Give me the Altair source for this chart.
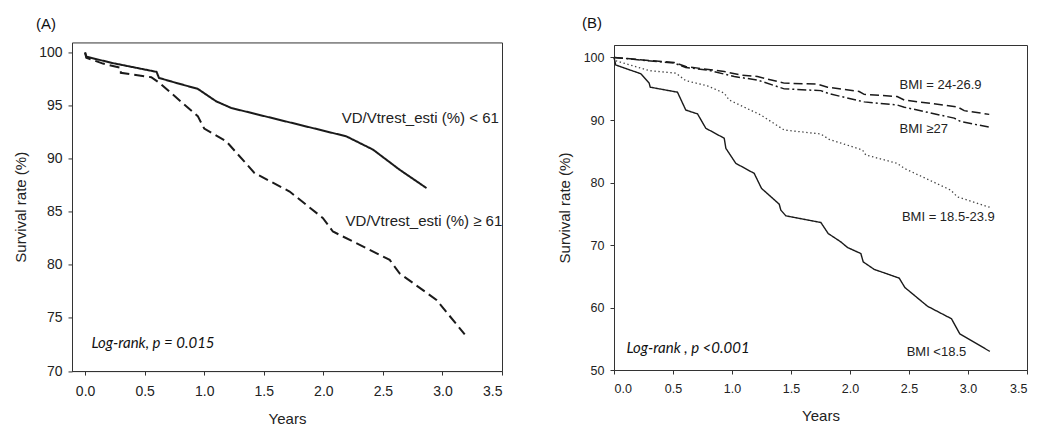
import altair as alt
import pandas as pd

# ---------------- Panel A data ----------------
a_names = ["VD/Vtrest_esti (%) < 61", "VD/Vtrest_esti (%) ≥ 61"]
a_low_x = [0.0, 0.01, 0.23, 0.60, 0.62, 0.765, 0.946, 1.10, 1.227, 2.193, 2.417, 2.64, 2.866]
a_low_y = [100.0, 99.6, 99.0, 98.17, 97.6, 97.13, 96.57, 95.4, 94.77, 92.1, 90.85, 88.96, 87.23]
a_high_x = [0.0, 0.01, 0.15, 0.30, 0.30, 0.555, 0.624, 0.946, 1.0, 1.185, 1.423, 1.717,
            1.997, 2.08, 2.557, 2.64, 2.95, 3.187]
a_high_y = [100.0, 99.5, 98.95, 98.55, 98.08, 97.67, 97.13, 94.0, 92.83, 91.63, 88.64, 86.9,
            84.4, 83.14, 80.47, 79.2, 76.7, 73.45]
a_label_x = [2.154, 2.187]
a_label_y = [93.8, 84.1]
a_note = "Log-rank, p = 0.015"
a_note_x = [0.053]
a_note_y = [72.6]

# ---------------- Panel B data ----------------
b_names = ["BMI = 24-26.9", "BMI ≥27", "BMI = 18.5-23.9", "BMI <18.5"]
b_n_x = [0.0, 0.51, 0.608, 0.934, 1.075, 1.216, 1.442, 1.725, 1.81, 2.078, 2.12, 2.40, 2.46,
         2.91, 2.968, 3.18]
b_n_y = [100.0, 99.2, 98.56, 97.75, 97.2, 96.95, 95.9, 95.75, 95.25, 94.55, 94.1, 93.75, 93.2,
         92.1, 91.5, 90.9]
b_o_x = [0.0, 0.51, 0.608, 0.792, 1.019, 1.216, 1.442, 1.753, 1.824, 2.12, 2.40, 2.46, 2.883,
         2.94, 3.185]
b_o_y = [100.0, 99.1, 98.4, 98.0, 96.95, 96.4, 94.98, 94.7, 94.2, 92.9, 92.4, 92.05, 90.3,
         89.74, 88.84]
b_m_x = [0.0, 0.01, 0.298, 0.524, 0.608, 0.792, 0.934, 0.976, 1.244, 1.442, 1.753, 1.824,
         2.106, 2.134, 2.40, 2.46, 2.854, 2.91, 3.19]
b_m_y = [100.0, 99.5, 97.9, 97.5, 96.3, 95.46, 94.3, 93.2, 90.8, 88.4, 87.76, 86.9,
         85.2, 84.4, 83.07, 82.26, 78.78, 77.7, 76.0]
b_u_x = [0.0, 0.015, 0.227, 0.298, 0.307, 0.538, 0.608, 0.708, 0.778, 0.934, 0.948, 1.032,
         1.188, 1.25, 1.40, 1.414, 1.456, 1.753, 1.815, 1.922, 1.979, 2.092, 2.112, 2.205,
         2.417, 2.465, 2.657, 2.86, 2.93, 3.185]
b_u_y = [100.0, 98.8, 97.4, 95.9, 95.25, 94.45, 91.6, 90.97, 88.68, 87.08, 85.47, 83.07,
         81.46, 79.06, 76.54, 75.58, 74.67, 73.6, 71.84, 70.5, 69.6, 68.63, 67.3, 66.1,
         64.7, 63.2, 60.2, 58.2, 55.8, 52.97]
b_label_x = [2.42, 2.42, 2.44, 2.48]
b_label_y = [95.6, 88.6, 74.5, 52.85]
b_note = "Log-rank , p <0.001"
b_note_x = [0.106]
b_note_y = [53.6]


def series_df(xv, yv):
    return pd.DataFrame({"years": xv, "survival": yv, "i": list(range(len(xv)))})


FONT = "Liberation Sans"
INK = "#1a1a1a"
TICKS_X = [0, 0.5, 1, 1.5, 2, 2.5, 3, 3.5]

# ---------------- Panel A ----------------
xA = alt.X("years:Q",
           scale=alt.Scale(domain=[-0.11, 3.5], nice=False, zero=False),
           axis=alt.Axis(values=TICKS_X, format=".1f", title="Years",
                         labelFontSize=14, titleFontSize=15, labelPadding=9, titlePadding=13))
yA = alt.Y("survival:Q",
           scale=alt.Scale(domain=[70, 100.94], nice=False, zero=False),
           axis=alt.Axis(values=[70, 75, 80, 85, 90, 95, 100], title="Survival rate (%)",
                         labelFontSize=14, titleFontSize=15, labelPadding=6, titlePadding=10))

a_styles = [dict(strokeDash=[1, 0]), dict(strokeDash=[10, 5])]
a_layers = []
for xv, yv, st in zip([a_low_x, a_high_x], [a_low_y, a_high_y], a_styles):
    a_layers.append(
        alt.Chart(series_df(xv, yv)).mark_line(color=INK, strokeWidth=2, **st).encode(
            x=xA, y=yA, order="i:Q")
    )
labA = pd.DataFrame({"t": a_names, "x": a_label_x, "y": a_label_y})
textA = alt.Chart(labA).mark_text(align="left", baseline="middle", font=FONT, fontSize=15,
                                  color="#222").encode(x="x:Q", y="y:Q", text="t:N")
noteA = alt.Chart(pd.DataFrame({"t": [a_note], "x": a_note_x, "y": a_note_y})).mark_text(
    align="left", baseline="middle", font="Lato", fontStyle="italic", fontSize=15, color="#111"
).encode(x="x:Q", y="y:Q", text="t:N")

panelA = alt.layer(*a_layers, textA, noteA).properties(
    width=430, height=328.6,
    title=alt.TitleParams("(A)", anchor="start", frame="group", dx=-36, offset=10,
                          fontSize=15, fontWeight="normal", font=FONT, color="#111"),
)

# ---------------- Panel B ----------------
xB = alt.X("years:Q",
           scale=alt.Scale(domain=[0, 3.5], nice=False, zero=False),
           axis=alt.Axis(values=TICKS_X, format=".1f", title="Years",
                         labelFontSize=12.5, titleFontSize=15, labelPadding=8, titlePadding=14))
yB = alt.Y("survival:Q",
           scale=alt.Scale(domain=[50, 102.0], nice=False, zero=False),
           axis=alt.Axis(values=[50, 60, 70, 80, 90, 100], title="Survival rate (%)",
                         labelFontSize=12.5, titleFontSize=15, labelPadding=6, titlePadding=11))

b_styles = [
    dict(strokeDash=[9, 4], strokeWidth=1.5, color=INK),
    dict(strokeDash=[9, 3, 2, 3], strokeWidth=1.5, color=INK),
    dict(strokeDash=[1.4, 2.6], strokeWidth=1.3, color="#444"),
    dict(strokeDash=[1, 0], strokeWidth=1.4, color=INK),
]
b_layers = []
for xv, yv, st in zip([b_n_x, b_o_x, b_m_x, b_u_x], [b_n_y, b_o_y, b_m_y, b_u_y], b_styles):
    b_layers.append(
        alt.Chart(series_df(xv, yv)).mark_line(**st).encode(x=xB, y=yB, order="i:Q")
    )
labB = pd.DataFrame({"t": b_names, "x": b_label_x, "y": b_label_y})
textB = alt.Chart(labB).mark_text(align="left", baseline="middle", font=FONT, fontSize=13,
                                  color="#222").encode(x="x:Q", y="y:Q", text="t:N")
noteB = alt.Chart(pd.DataFrame({"t": [b_note], "x": b_note_x, "y": b_note_y})).mark_text(
    align="left", baseline="middle", font="Lato", fontStyle="italic", fontSize=15, color="#111"
).encode(x="x:Q", y="y:Q", text="t:N")

panelB = alt.layer(*b_layers, textB, noteB).properties(
    width=413, height=325,
    title=alt.TitleParams("(B)", anchor="start", frame="group", dx=-32, offset=14,
                          fontSize=15, fontWeight="normal", font=FONT, color="#111"),
)

chart = alt.hconcat(panelA, panelB, spacing=53, center=True).configure_view(
    stroke="#333", strokeWidth=1
).configure_axis(
    grid=False, domainColor="#333", tickColor="#333", labelColor="#222", titleColor="#222",
    labelFont=FONT, titleFont=FONT, titleFontWeight="normal", tickSize=4,
).properties(
    padding={"left": 5, "top": 7, "right": 0, "bottom": 0}
)

chart.save("out.html", embed_options={"renderer": "svg", "actions": False})
